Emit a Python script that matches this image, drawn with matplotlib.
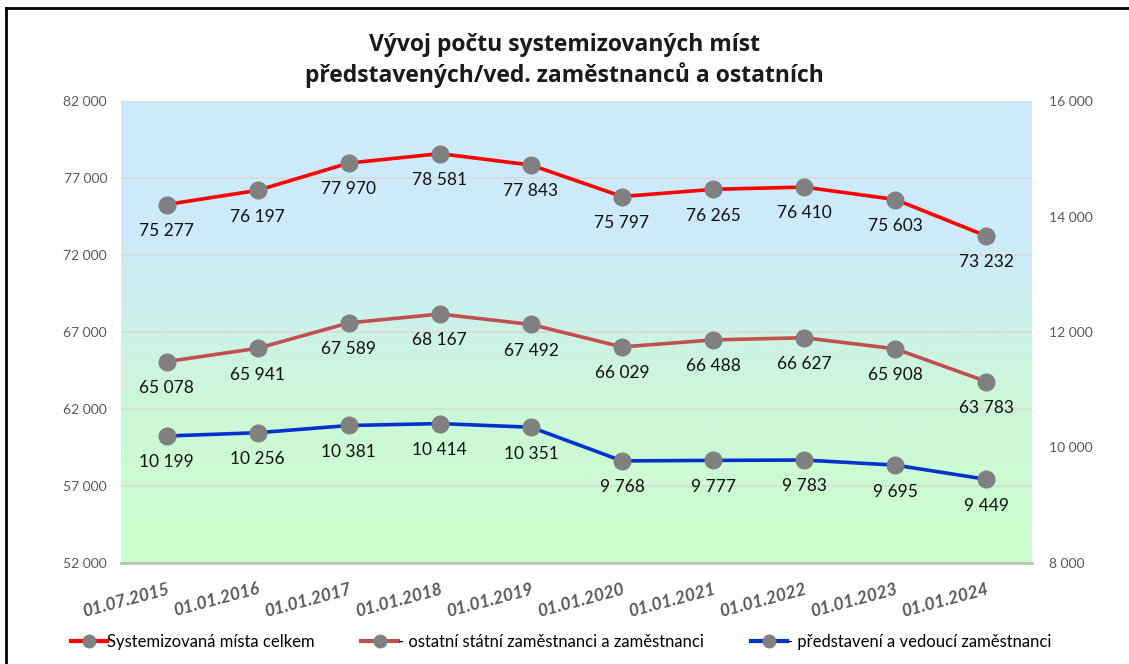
import numpy as np
import matplotlib
matplotlib.use("Agg")
import matplotlib.pyplot as plt
from matplotlib.lines import Line2D
from matplotlib.colors import LinearSegmentedColormap
from matplotlib.ticker import FuncFormatter

plt.rcParams['font.family'] = ['Lato', 'DejaVu Sans']

dates = ["01.07.2015", "01.01.2016", "01.01.2017", "01.01.2018", "01.01.2019",
         "01.01.2020", "01.01.2021", "01.01.2022", "01.01.2023", "01.01.2024"]
celkem = [75277, 76197, 77970, 78581, 77843, 75797, 76265, 76410, 75603, 73232]
ostatni = [65078, 65941, 67589, 68167, 67492, 66029, 66488, 66627, 65908, 63783]
vedouci = [10199, 10256, 10381, 10414, 10351, 9768, 9777, 9783, 9695, 9449]

labels = ["Systemizovaná místa celkem",
          "- ostatní státní zaměstnanci a zaměstnanci",
          "- představení a vedoucí zaměstnanci"]
colors = ["#FF0000", "#C0504D", "#0033CC"]
marker_col = "#808080"


def fmt(v, pos=None):
    return f"{int(v):,}".replace(",", " ")


fig = plt.figure(figsize=(11.29, 6.64), dpi=100)
ax = fig.add_axes([121 / 1129, (664 - 563) / 664, (1032 - 121) / 1129, (563 - 101) / 664])
ax2 = ax.twinx()

x = np.arange(len(dates))

# verlauf im hintergrund
cmap = LinearSegmentedColormap.from_list("bg", [(0, "#CCFFCC"), (0.35, "#CCF7D8"), (0.7, "#CCEBFA"), (1, "#CCEAFC")])
grad = np.linspace(0, 1, 256).reshape(-1, 1)
ax.imshow(grad, aspect="auto", cmap=cmap, origin="lower",
          extent=[-0.5, 9.5, 52000, 82000], zorder=0)

ax.set_xlim(-0.5, 9.5)
ax.set_ylim(52000, 82000)
ax.set_yticks(np.arange(52000, 82001, 5000))
ax2.set_ylim(8000, 16000)
ax2.set_yticks(np.arange(8000, 16001, 2000))
ax.yaxis.set_major_formatter(FuncFormatter(fmt))
ax2.yaxis.set_major_formatter(FuncFormatter(fmt))
ax.grid(axis="y", color="#D9D9D9", linewidth=1.2, zorder=1)

for a in (ax, ax2):
    for s in a.spines.values():
        s.set_visible(False)
    a.tick_params(axis="y", length=0, labelsize=10, labelcolor="#595959")
ax.tick_params(axis="y", pad=10)
ax2.tick_params(axis="y", pad=12)
ax.spines["bottom"].set_visible(True)
ax.spines["bottom"].set_color("#BFBFBF")
ax.spines["bottom"].set_linewidth(2)

ax.set_xticks(x)
ax.set_xticklabels(dates, rotation=15, fontsize=12.5, fontweight="bold",
                   fontstyle="italic", color="#595959", ha="right", rotation_mode="anchor")
ax.tick_params(axis="x", length=0, pad=13)

series = [(ax, celkem, colors[0]), (ax, ostatni, colors[1]), (ax2, vedouci, colors[2])]
for a, vals, c in series:
    a.plot(x, vals, color=c, linewidth=2.6, marker="o", markersize=12,
           markerfacecolor=marker_col, markeredgecolor=marker_col, zorder=3)
    for xi, v in zip(x, vals):
        a.annotate(fmt(v), (xi, v), xytext=(0, -19), textcoords="offset points",
                   ha="center", va="center", fontsize=12.5, color="#111111", zorder=4)

fig.text(0.5, 0.909, "Vývoj počtu systemizovaných míst\npředstavených/ved. zaměstnanců a ostatních",
         ha="center", va="center", fontsize=16.5, fontweight="bold", color="#1a1a1a",
         linespacing=1.3, family=["Open Sans", "DejaVu Sans"])

handles = [Line2D([0], [0], color=c, linewidth=3, marker="o", markersize=9,
                  markerfacecolor=marker_col, markeredgecolor=marker_col) for c in colors]
fig.legend(handles, labels, loc="center", bbox_to_anchor=(0.497, 0.033), ncol=3,
           frameon=False, fontsize=12, handlelength=2.2, handletextpad=0.0,
           columnspacing=2.8)

# rahmen links und oben
fig.add_artist(Line2D([6 / 1129, 6 / 1129], [0, 1 - 8 / 664], color="black", linewidth=2, transform=fig.transFigure))
fig.add_artist(Line2D([6 / 1129, 1], [1 - 8 / 664, 1 - 8 / 664], color="black", linewidth=2, transform=fig.transFigure))

fig.savefig("out.png", dpi=100)
